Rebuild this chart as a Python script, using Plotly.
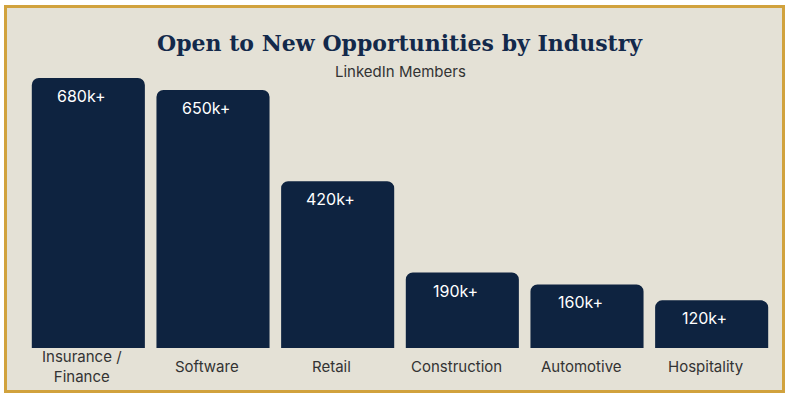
import plotly.graph_objects as go

categories = ["Insurance / Finance", "Software", "Retail", "Construction", "Automotive", "Hospitality"]
category_labels = ["Insurance /<br>Finance", "Software", "Retail", "Construction", "Automotive", "Hospitality"]
members_k = [680, 650, 420, 190, 160, 120]
value_labels = ["680k+", "650k+", "420k+", "190k+", "160k+", "120k+"]

W, H = 787, 397
ml, mr, mt, mb = 26, 13, 60, 49
pw, ph = W - ml - mr, H - mt - mb

def px_to_paper_x(px):
    return (px - ml) / pw

def px_to_paper_y(py):
    return (H - mb - py) / ph

NAVY = "#0E2340"
BG = "#E4E1D6"
GOLD = "#D1A23D"
TXT = "#333333"

fig = go.Figure(go.Bar(
    x=categories, y=members_k,
    marker=dict(color=NAVY, cornerradius=7, line=dict(width=0)),
    hoverinfo="skip",
))

annotations = []
for c, v, t in zip(categories, members_k, value_labels):
    annotations.append(dict(x=c, y=v, xref="x", yref="y", text=t, showarrow=False,
                            yanchor="top", yshift=-6, xshift=-7,
                            font=dict(family="Inter, Open Sans, sans-serif", size=16, color="#FFFFFF")))
for c, lab in zip(categories, category_labels):
    annotations.append(dict(x=c, y=px_to_paper_y(366), xref="x", yref="paper", text=lab,
                            showarrow=False, yanchor="middle", xshift=-6,
                            font=dict(family="Inter, Open Sans, sans-serif", size=15, color=TXT)))
annotations.append(dict(x=0.5, xref="paper", y=px_to_paper_y(43), yref="paper",
                        text="<b>Open to New Opportunities by Industry</b>", showarrow=False,
                        yanchor="middle", xanchor="center",
                        font=dict(family="DejaVu Serif", size=22, color="#13294B")))
annotations.append(dict(x=0.5, xref="paper", y=px_to_paper_y(72), yref="paper",
                        text="LinkedIn Members", showarrow=False,
                        yanchor="middle", xanchor="center",
                        font=dict(family="Inter, Open Sans, sans-serif", size=15, color=TXT)))

fig.update_layout(
    width=W, height=H,
    margin=dict(l=ml, r=mr, t=mt, b=mb, pad=0),
    paper_bgcolor="#FFFFFF",
    plot_bgcolor="rgba(0,0,0,0)",
    bargap=0.093,
    showlegend=False,
    xaxis=dict(showticklabels=False, showgrid=False, zeroline=False, showline=False, fixedrange=True),
    yaxis=dict(range=[0, ph / 0.397], visible=False, showgrid=False, zeroline=False, fixedrange=True),
    annotations=annotations,
    shapes=[dict(type="rect", xref="paper", yref="paper", layer="below",
                 x0=px_to_paper_x(5.5), x1=px_to_paper_x(783.5),
                 y0=px_to_paper_y(391.5), y1=px_to_paper_y(6.5),
                 fillcolor=BG, line=dict(color=GOLD, width=3))],
)

fig.write_html("out.html", config={"displayModeBar": False},
               post_script="document.body.style.margin='0';document.body.style.overflow='hidden';")
